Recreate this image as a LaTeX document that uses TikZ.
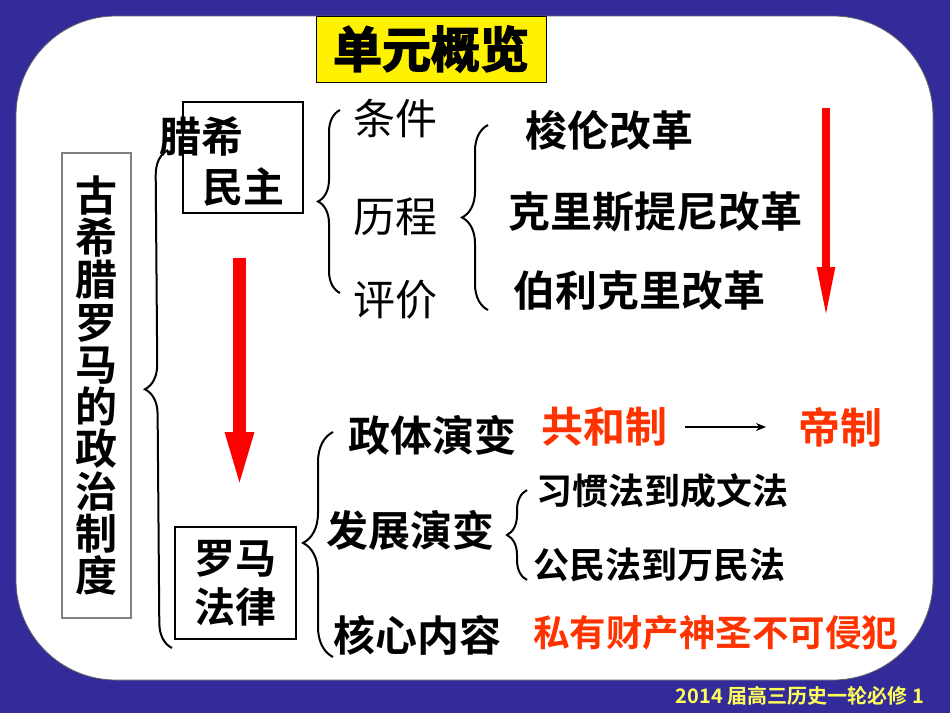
\documentclass[tikz,border=0pt]{standalone}
\usepackage{fontspec}
\setmainfont{Noto Sans CJK SC}[BoldFont={Noto Sans CJK SC Bold}]
\newfontfamily\titlefont{Noto Sans CJK SC Bold}[FakeBold=3]
\usetikzlibrary{decorations.pathreplacing,arrows.meta}
\definecolor{bgblue}{RGB}{51,43,153}
\definecolor{redtxt}{RGB}{255,51,0}
\definecolor{footyellow}{RGB}{255,255,90}
\begin{document}
\begin{tikzpicture}[x=1pt,y=-1pt,
  lbl/.style={inner sep=0pt, anchor=west, font=\fontsize{42}{46}\selectfont\bfseries},
  lblreg/.style={inner sep=0pt, anchor=west, font=\fontsize{42}{46}\selectfont},
  lblsm/.style={inner sep=0pt, anchor=west, font=\fontsize{36}{40}\selectfont\bfseries},
  redlbl/.style={lbl, text=redtxt},
  mybrace/.style={decorate, decoration={brace, amplitude=#1}, line width=2pt},
  bigarrow/.style={draw=red, line width=13pt, -{Triangle[length=59pt,width=25pt]}, red},
  thinarrow/.style={draw=red, line width=8pt, -{Triangle[length=53pt,width=16pt]}, red},
  blkarrow/.style={line width=1.5pt, -{Stealth[length=10pt,width=8pt]}},
  boxnode/.style={draw, inner sep=0pt}
]
\useasboundingbox (0,0) rectangle (950,713);
\fill[bgblue] (0,0) rectangle (950,713);
\filldraw[fill=white, draw=black!60, line width=0.8pt, rounded corners=100pt] (16,16) rectangle (933,680);

% title
\node[boxnode, fill=yellow, line width=1pt, minimum width=230pt, minimum height=66pt,
      font=\fontsize{49}{50}\selectfont\titlefont] (title) at (431,49) {单元概览};

% footer
\node[inner sep=0pt, text=footyellow, font=\fontsize{20}{22}\selectfont\bfseries] (footer) at (800,696) {2014 届高三历史一轮必修 1};

% main vertical box
\node[boxnode, draw=gray, line width=1.2pt, minimum width=69pt, minimum height=465pt, align=center,
      font=\fontsize{42}{42.3}\selectfont\bfseries] (main) at (96.5,385.5)
      {古\\希\\腊\\罗\\马\\的\\政\\治\\制\\度};

% Greek democracy box
\node[boxnode, line width=1.5pt, minimum width=120pt, minimum height=111pt] (greek) at (243,157.5) {};
\node[lbl, anchor=center] (greek1) at (201,136) {腊希};
\node[lbl, anchor=center, font=\fontsize{41}{46}\selectfont\bfseries] (greek2) at (243,187) {民主};

% Roman law box
\node[boxnode, line width=2pt, minimum width=121pt, minimum height=112pt, align=center,
      font=\fontsize{41}{49}\selectfont\bfseries] (roman) at (235.5,583) {罗马\\法律};

% big brace
\draw[mybrace=25pt, decoration={aspect=0.52}] (172,648) -- (168,150);

% Greek branch
\draw[mybrace=22pt, decoration={aspect=0.5}] (340,293) -- (340,110);
\node[lblreg] (tiaojian) at (353,118) {条件};
\node[lblreg] (licheng) at (353,217) {历程};
\node[lblreg] (pingjia) at (353,300) {评价};

\draw[mybrace=26pt, decoration={aspect=0.5}] (488,310) -- (488,125);
\node[lbl] (suolun) at (525,130) {梭伦改革};
\node[lbl] (kelisi) at (508,212) {克里斯提尼改革};
\node[lbl] (bolike) at (513,291) {伯利克里改革};

% red arrows
\coordinate (a1) at (239.5,258);
\coordinate (a2) at (239.5,491);
\draw[bigarrow] (a1) -- (a2);
\coordinate (r1) at (826,108);
\coordinate (r2) at (826,320);
\draw[thinarrow] (r1) -- (r2);

% Roman branch
\draw[mybrace=30pt, decoration={aspect=0.507}] (333,657) -- (333,432);
\node[lbl] (zhengti) at (348,435) {政体演变};
\node[redlbl] (gonghe) at (541,427) {共和制};
\node[redlbl] (dizhi) at (798,427) {帝制};
\draw[blkarrow] ([xshift=18pt]gonghe.east) -- ([xshift=-32pt]dizhi.west);

\node[lbl] (fazhan) at (326,530) {发展演变};
\draw[mybrace=20pt, decoration={aspect=0.5}] (527,580) -- (527,490);
\node[lblsm] (xiguan) at (536,491) {习惯法到成文法};
\node[lblsm] (gongmin) at (533,565) {公民法到万民法};

\node[lbl] (hexin) at (333,635) {核心内容};
\node[lblsm, text=redtxt, font=\fontsize{36.5}{40}\selectfont\bfseries] (siyou) at (533,633) {私有财产神圣不可侵犯};
\end{tikzpicture}
\end{document}
